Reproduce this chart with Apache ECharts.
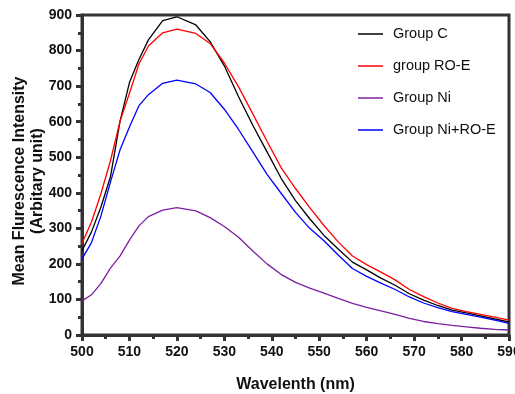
<!DOCTYPE html>
<html>
<head>
<meta charset="utf-8">
<script src="https://cdn.jsdelivr.net/npm/echarts@6/dist/echarts.min.js"></script>
<style>
  html, body { margin: 0; padding: 0; background: #fff; }
  #chart { width: 515px; height: 394px; }
</style>
</head>
<body>
<div id="chart"></div>
<script>
// wavelength (nm) sample points
const wavelength = [500, 502, 504, 506, 508, 510, 512, 514, 517, 520, 524, 527, 530, 533, 536, 539, 542, 545, 548, 551, 554, 557, 560, 563, 566, 569, 572, 575, 578, 581, 584, 587, 590];

const groupC    = [237, 290, 360, 445, 600, 710, 775, 830, 884, 895, 872, 825, 757, 670, 590, 515, 440, 378, 327, 280, 242, 205, 183, 160, 140, 116, 98, 83, 70, 62, 54, 45, 37];
const groupROE  = [258, 318, 398, 490, 600, 680, 762, 813, 850, 860, 848, 820, 765, 698, 622, 545, 470, 412, 358, 308, 262, 222, 198, 177, 155, 128, 108, 90, 75, 66, 58, 50, 42];
const groupNi   = [96, 113, 145, 188, 222, 267, 307, 333, 351, 358, 349, 330, 305, 275, 236, 200, 170, 148, 132, 118, 103, 89, 78, 68, 58, 47, 38, 32, 27, 23, 19, 16, 14];
const groupNiRO = [214, 260, 335, 430, 520, 585, 645, 676, 708, 717, 706, 682, 635, 578, 515, 452, 398, 345, 300, 265, 225, 187, 165, 146, 128, 107, 90, 77, 66, 58, 50, 42, 33];

const seriesNames = ["Group C", "group RO-E", "Group Ni", "Group Ni+RO-E"];
const seriesColors = ["#000000", "#ff0000", "#7b1fa2", "#0000ff"];
const seriesValues = [groupC, groupROE, groupNi, groupNiRO];

const AXIS_COLOR = "#333333";
const FONT = "'Liberation Sans', Arial, sans-serif";

const chart = echarts.init(document.getElementById("chart"), null, { renderer: "canvas" });

chart.setOption({
  animation: false,
  backgroundColor: "#fff",
  grid: {
    left: 82,
    right: 6,
    top: 15,
    bottom: 59,
    outerBoundsMode: "none",
    containLabel: false,
    show: true,
    borderColor: AXIS_COLOR,
    borderWidth: 3,
  },
  legend: {
    orient: "vertical",
    left: 353,
    top: 21,
    icon: "rect",
    itemWidth: 25,
    itemHeight: 1.5,
    itemGap: 16,
    textStyle: { fontFamily: FONT, fontSize: 14.5, color: "#111", lineHeight: 16, padding: [0, 0, 0, 5] },
    data: seriesNames,
  },
  xAxis: {
    type: "value",
    min: 500,
    max: 590,
    interval: 10,
    name: "Wavelenth (nm)",
    nameLocation: "middle",
    nameGap: 42,
    nameMoveOverlap: false,
    nameTextStyle: { fontFamily: FONT, fontSize: 16, fontWeight: "bold", color: "#111" },
    axisLine: { show: true, lineStyle: { color: AXIS_COLOR, width: 3 } },
    axisTick: { show: true, length: 6, lineStyle: { color: AXIS_COLOR, width: 3 } },
    minorTick: { show: true, splitNumber: 2, length: 4, lineStyle: { color: AXIS_COLOR, width: 3 } },
    axisLabel: { fontFamily: FONT, fontSize: 14, fontWeight: "bold", color: "#111", margin: 10 },
    splitLine: { show: false },
  },
  yAxis: {
    type: "value",
    min: 0,
    max: 900,
    interval: 100,
    name: "Mean Flurescence Intensity\n(Arbitary unit)",
    nameLocation: "middle",
    nameGap: 35,
    nameMoveOverlap: false,
    nameTextStyle: { fontFamily: FONT, fontSize: 16, fontWeight: "bold", color: "#111", lineHeight: 18, padding: [0, 12, 0, 0] },
    axisLine: { show: true, lineStyle: { color: AXIS_COLOR, width: 3 } },
    axisTick: { show: true, length: 6, lineStyle: { color: AXIS_COLOR, width: 3 } },
    minorTick: { show: true, splitNumber: 2, length: 4, lineStyle: { color: AXIS_COLOR, width: 3 } },
    axisLabel: { fontFamily: FONT, fontSize: 14, fontWeight: "bold", color: "#111", margin: 10 },
    splitLine: { show: false },
  },
  series: seriesNames.map((name, i) => ({
    name,
    type: "line",
    symbol: "none",
    smooth: false,
    lineStyle: { width: 1.3, color: seriesColors[i] },
    itemStyle: { color: seriesColors[i] },
    data: wavelength.map((w, j) => [w, seriesValues[i][j]]),
  })),
});
</script>
</body>
</html>
